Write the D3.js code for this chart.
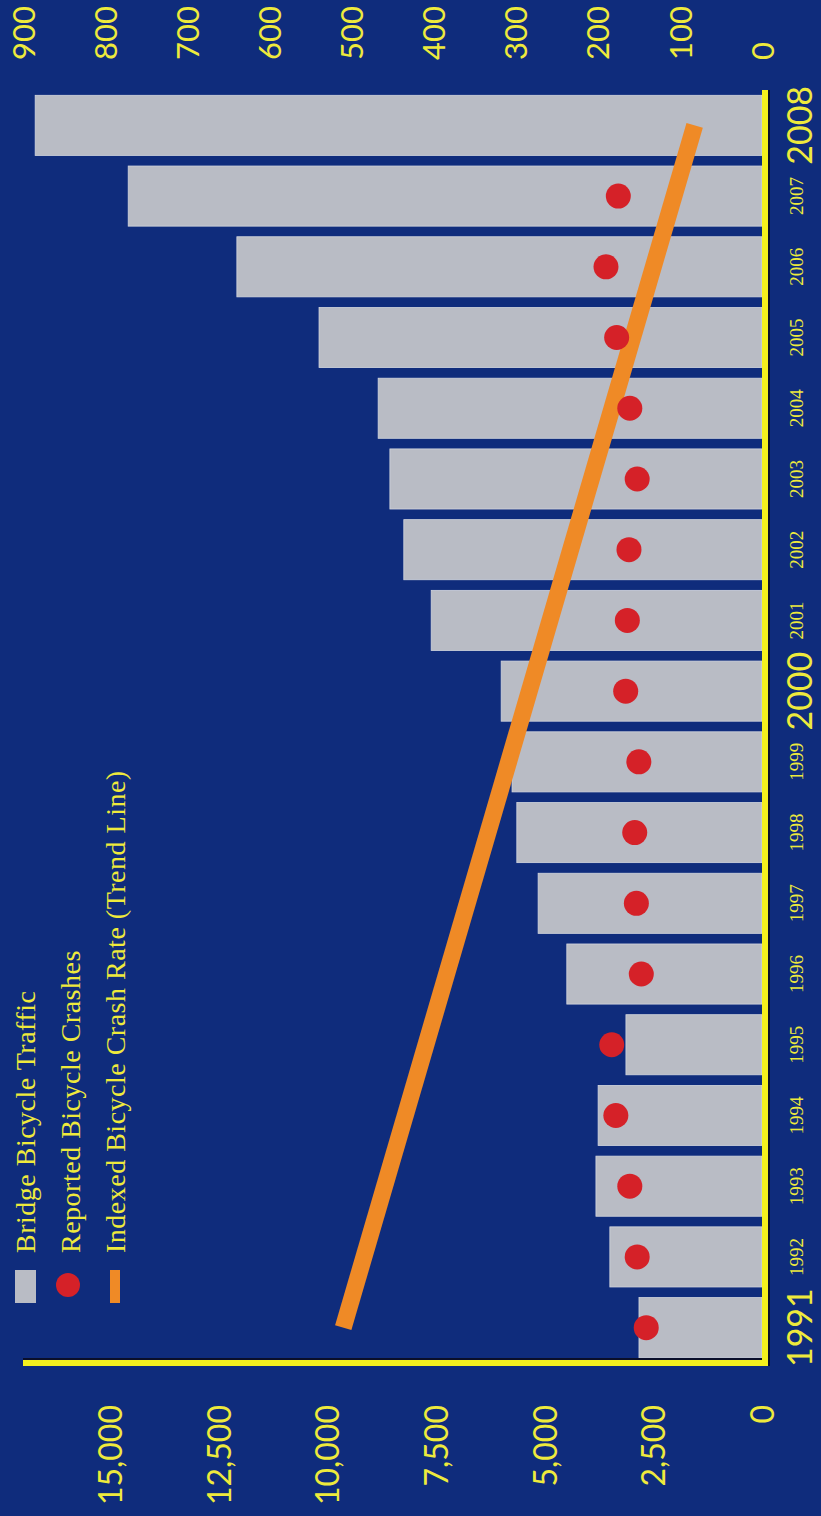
<!DOCTYPE html>
<html>
<head>
<meta charset="utf-8">
<script src="https://cdn.jsdelivr.net/npm/d3@7/dist/d3.min.js"></script>
<style>
  html, body { margin: 0; padding: 0; background: #0f2c7c; }
  svg { display: block; }
</style>
</head>
<body>
<svg id="chart" width="821" height="1516"></svg>
<script>
// ---- data ----
const years = ["1991","1992","1993","1994","1995","1996","1997","1998","1999","2000",
               "2001","2002","2003","2004","2005","2006","2007","2008"];
const traffic = [2830, 3500, 3820, 3770, 3130, 4490, 5150, 5640, 5750, 6000,
                 7610, 8240, 8560, 8830, 10190, 12080, 14580, 16720];
const crashes = [141, 152, 161, 178, 183, 147, 153, 155, 150, 166,
                 164, 162, 152, 161, 177, 190, 175, null];
const trendYears = ["1991", "2008"];
const trendValues = [510, 82];
const trafficTicks = [0, 2500, 5000, 7500, 10000, 12500, 15000];
const crashTicks = [0, 100, 200, 300, 400, 500, 600, 700, 800, 900];
const bigYears = ["1991", "2000", "2008"];
const legendLabels = ["Bridge Bicycle Traffic", "Reported Bicycle Crashes", "Indexed Bicycle Crash Rate (Trend Line)"];

// ---- colours ----
const BG = "#0f2c7c", BAR = "#b9bcc5", RED = "#d52128", ORANGE = "#ef8a26",
      YELLOW = "#f4f01e", TEXT = "#eeea3c";

// The chart is drawn in its own (unrotated) frame of 1516 x 821 and rotated -90deg.
const W = 1516, H = 821;
const svg = d3.select("#chart");
svg.append("rect").attr("width", 821).attr("height", 1516).attr("fill", BG);
const g = svg.append("g").attr("transform", `translate(0,${W}) rotate(-90)`);

const plotLeft = 153, plotRight = 1426, zeroY = 762, topY = 23;

const x = d3.scaleBand().domain(years).range([plotLeft, plotRight])
  .paddingInner(0.15).paddingOuter(0.075);
const yL = d3.scaleLinear().domain([0, 17000]).range([zeroY, topY]);
const yR = d3.scaleLinear().domain([0, 900]).range([zeroY, topY]);

// bars
g.append("g").selectAll("rect").data(years).join("rect")
  .attr("x", d => x(d))
  .attr("width", x.bandwidth())
  .attr("y", (d, i) => yL(traffic[i]))
  .attr("height", (d, i) => yL(0) - yL(traffic[i]))
  .attr("fill", BAR)
  .attr("stroke", "#d3d6de").attr("stroke-width", 0.8);

// trend line
const trend = trendYears.map((y, i) => ({ year: y, value: trendValues[i] }));
g.append("path").datum(trend)
  .attr("d", d3.line().x(d => x(d.year) + x.bandwidth() / 2).y(d => yR(d.value)))
  .attr("stroke", ORANGE).attr("stroke-width", 17).attr("fill", "none")
  .attr("stroke-linecap", "butt");

// crash dots
g.append("g").selectAll("circle")
  .data(years.map((y, i) => ({ year: y, v: crashes[i] })).filter(d => d.v != null))
  .join("circle")
  .attr("cx", d => x(d.year) + x.bandwidth() / 2)
  .attr("cy", d => yR(d.v))
  .attr("r", 12.5)
  .attr("fill", RED);

// axis frame lines (yellow with dark shadow)
g.append("line").attr("x1", plotLeft + 4).attr("x2", plotLeft + 4)
  .attr("y1", topY).attr("y2", zeroY).attr("stroke", "#0a0f2a").attr("stroke-width", 2);
g.append("line").attr("x1", plotLeft).attr("x2", plotLeft)
  .attr("y1", topY).attr("y2", zeroY + 6).attr("stroke", YELLOW).attr("stroke-width", 6);
g.append("line").attr("x1", plotLeft - 3).attr("x2", plotRight)
  .attr("y1", zeroY + 7).attr("y2", zeroY + 7).attr("stroke", "#0a0f2a").attr("stroke-width", 2);
g.append("line").attr("x1", plotLeft - 3).attr("x2", plotRight)
  .attr("y1", zeroY + 3).attr("y2", zeroY + 3).attr("stroke", YELLOW).attr("stroke-width", 6);

// left axis (traffic)
const axL = g.append("g").attr("transform", `translate(${plotLeft},0)`)
  .call(d3.axisLeft(yL).tickValues(trafficTicks).tickFormat(d3.format(","))
    .tickSize(0).tickPadding(42));
axL.select(".domain").remove();
axL.selectAll("text").attr("fill", TEXT)
  .style("font-family", "Lato, 'Open Sans', sans-serif").style("font-size", "32px")
  .attr("dy", "0.36em");

// right axis (crashes)
const axR = g.append("g").attr("transform", `translate(${plotRight},0)`)
  .call(d3.axisRight(yR).tickValues(crashTicks).tickFormat(d3.format("d"))
    .tickSize(0).tickPadding(30));
axR.select(".domain").remove();
axR.selectAll("text").attr("fill", TEXT)
  .style("font-family", "Lato, 'Open Sans', sans-serif").style("font-size", "31px")
  .attr("dy", "0.36em");

// bottom axis (years) - small labels
const axB = g.append("g").attr("transform", `translate(0,${zeroY})`)
  .call(d3.axisBottom(x).tickSize(0).tickPadding(28)
    .tickFormat(d => bigYears.includes(d) ? "" : d));
axB.select(".domain").remove();
axB.selectAll("text").attr("fill", TEXT)
  .style("font-family", "'Liberation Serif', 'DejaVu Serif', serif").style("font-size", "19px");

// big year labels
g.append("g").selectAll("text").data(bigYears).join("text")
  .attr("x", d => x(d) + x.bandwidth() / 2)
  .attr("y", 812)
  .attr("text-anchor", "middle")
  .attr("fill", TEXT)
  .style("font-family", "Lato, 'Open Sans', sans-serif").style("font-size", "34px")
  .text(d => d);

// legend
const lg = g.append("g");
const rowBase = [35, 80, 125];
lg.append("rect").attr("x", 213).attr("y", 15).attr("width", 33).attr("height", 21).attr("fill", BAR);
lg.append("circle").attr("cx", 231).attr("cy", 68).attr("r", 12).attr("fill", RED);
lg.append("rect").attr("x", 213).attr("y", 110).attr("width", 33).attr("height", 10).attr("fill", ORANGE);
lg.selectAll("text.leg").data(legendLabels).join("text")
  .attr("class", "leg")
  .attr("x", 263)
  .attr("y", (d, i) => rowBase[i])
  .attr("fill", TEXT)
  .style("font-family", "'Liberation Serif', 'DejaVu Serif', serif")
  .style("font-size", "28px").style("letter-spacing", "0.5px")
  .text(d => d);
</script>
</body>
</html>
